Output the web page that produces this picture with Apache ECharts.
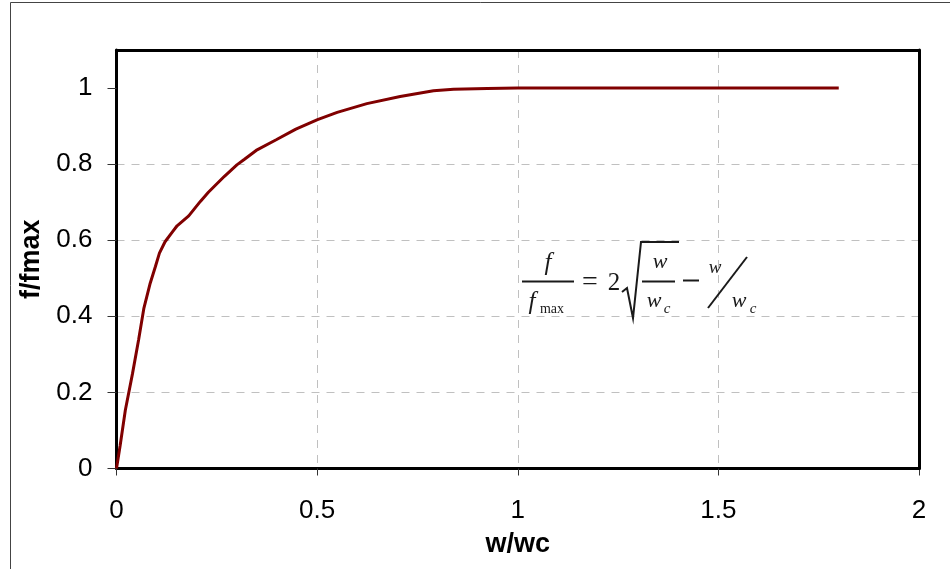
<!DOCTYPE html>
<html>
<head>
<meta charset="utf-8">
<script src="https://cdn.jsdelivr.net/npm/echarts@6/dist/echarts.min.js"></script>
<style>
html,body{margin:0;padding:0;background:#fff;}
#chart{width:950px;height:569px;}
</style>
</head>
<body>
<div id="chart"></div>
<script>
// Data
var ratioW = [0, 0.009, 0.022, 0.04, 0.055, 0.068, 0.084, 0.097, 0.107, 0.121, 0.138, 0.151, 0.18, 0.209, 0.229, 0.269, 0.3, 0.319, 0.348, 0.398, 0.447, 0.501, 0.55, 0.624, 0.707, 0.79, 0.84, 0.924, 1.0, 1.8];
var ratioF = [0, 0.06, 0.153, 0.25, 0.338, 0.42, 0.487, 0.531, 0.566, 0.596, 0.62, 0.638, 0.664, 0.702, 0.726, 0.768, 0.798, 0.813, 0.836, 0.864, 0.892, 0.917, 0.936, 0.959, 0.978, 0.993, 0.997, 0.999, 1.0, 1.0];
var xTicks = [0, 0.5, 1, 1.5, 2];
var yTicks = [0, 0.2, 0.4, 0.6, 0.8, 1];
var xTitle = 'w/wc';
var yTitle = 'f/fmax';

var seriesData = ratioW.map(function (w, i) { return [w, ratioF[i]]; });

var chart = echarts.init(document.getElementById('chart'), null, {renderer: 'canvas'});
var serif = 'Liberation Serif';
var sans = 'Liberation Sans';
var ink = '#1a1a1a';
var frame = {show: true, onZero: false, lineStyle: {color: '#000', width: 3}};
var splitStyle = {show: true, showMinLine: false, showMaxLine: false, lineStyle: {color: '#c0c0c0', width: 1, type: [8, 7]}};

function txt(x, y, s, size, italic) {
  return {type: 'text', silent: true, z: 100, x: x, y: y,
    style: {text: s, fontFamily: serif, fontStyle: italic ? 'italic' : 'normal', fontSize: size, fill: ink, align: 'center', verticalAlign: 'middle'}};
}
function seg(pts) {
  return {type: 'polyline', silent: true, z: 100, shape: {points: pts}, style: {stroke: ink, lineWidth: 2, fill: null}};
}

chart.setOption({
  animation: false,
  backgroundColor: '#fff',
  grid: {left: 116.5, right: 31, top: 50, bottom: 100.5, show: false},
  xAxis: [{
    type: 'value', min: 0, max: 2, interval: 0.5, position: 'bottom',
    name: xTitle, nameLocation: 'middle', nameGap: 63,
    nameTextStyle: {fontFamily: sans, fontSize: 27, fontWeight: 'bold', color: '#000'},
    axisLine: frame,
    axisTick: {show: true, inside: false, length: 7, lineStyle: {color: '#333', width: 1}, customValues: xTicks},
    axisLabel: {fontFamily: sans, fontSize: 26, color: '#000', margin: 29, customValues: xTicks},
    splitLine: splitStyle,
    z: 3
  }, {
    type: 'value', min: 0, max: 2, position: 'top',
    axisLine: frame, axisTick: {show: false}, axisLabel: {show: false}, splitLine: {show: false},
    z: 4
  }],
  yAxis: [{
    type: 'value', min: 0, max: 1.1, interval: 0.2, position: 'left',
    name: yTitle, nameLocation: 'middle', nameGap: 70, nameRotate: 90,
    nameTextStyle: {fontFamily: sans, fontSize: 27, fontWeight: 'bold', color: '#000'},
    axisLine: frame,
    axisTick: {show: true, inside: false, length: 9, lineStyle: {color: '#333', width: 1}, customValues: yTicks},
    axisLabel: {fontFamily: sans, fontSize: 26, color: '#000', margin: 24, customValues: yTicks},
    splitLine: splitStyle,
    z: 3
  }, {
    type: 'value', min: 0, max: 1.1, position: 'right',
    axisLine: frame, axisTick: {show: false}, axisLabel: {show: false}, splitLine: {show: false},
    z: 4
  }],
  series: [{
    type: 'line',
    data: seriesData,
    showSymbol: false,
    symbol: 'none',
    lineStyle: {color: '#800000', width: 3},
    z: 5
  }],
  graphic: [
    // outer chart frame (top and left edges visible)
    {type: 'line', silent: true, shape: {x1: 10.5, y1: 2.5, x2: 950, y2: 2.5}, style: {stroke: '#444', lineWidth: 1}},
    {type: 'line', silent: true, shape: {x1: 10.5, y1: 2.5, x2: 10.5, y2: 569}, style: {stroke: '#444', lineWidth: 1}},
    // formula: f / f_max = 2 sqrt(w / w_c) - w / w_c
    txt(548, 263, 'f', 25, true),
    seg([[522, 281.5], [574, 281.5]]),
    txt(532, 302, 'f', 25, true),
    txt(552, 309, 'max', 14, false),
    txt(590, 283, '=', 28, false),
    txt(614, 283, '2', 25, false),
    seg([[622, 292], [627, 288], [633, 318], [641, 242], [679, 242]]),
    txt(660, 262, 'w', 22, true),
    seg([[642, 281.5], [675, 281.5]]),
    txt(654, 301, 'w', 22, true),
    txt(667, 309, 'c', 15, true),
    seg([[683, 280.5], [699, 280.5]]),
    txt(715, 268, 'w', 19, true),
    seg([[708, 308], [747, 257]]),
    txt(739, 301, 'w', 22, true),
    txt(753, 309, 'c', 15, true)
  ]
});
</script>
</body>
</html>
